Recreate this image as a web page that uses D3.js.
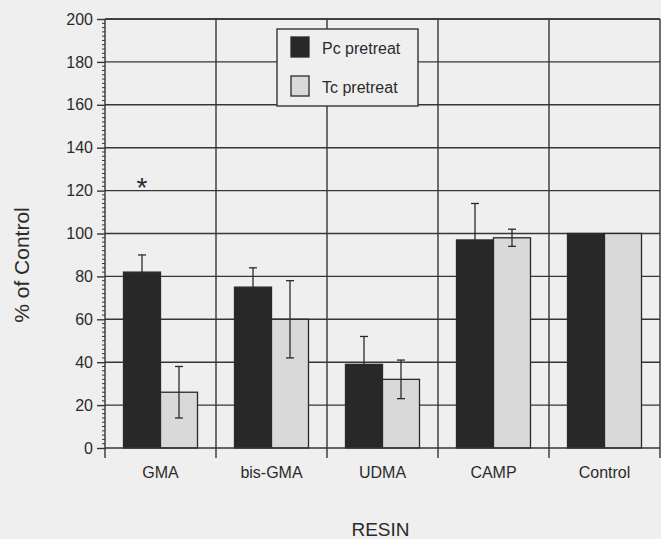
<!DOCTYPE html>
<html>
<head>
<meta charset="utf-8">
<script src="https://cdn.jsdelivr.net/npm/d3@7"></script>
<style>
  body { margin: 0; background: #efefef; }
  svg { display: block; }
  text { font-family: "Liberation Sans", Arial, sans-serif; fill: #2b2b2b; }
</style>
</head>
<body>
<svg id="chart"></svg>
<script>

/*
		 DATA
*/
var resins = ["GMA", "bis-GMA", "UDMA", "CAMP", "Control"];
var seriesNames = ["Pc pretreat", "Tc pretreat"];
var pcValues = [82, 75, 39, 97, 100];
var pcErrors = [8, 9, 13, 17, 0];
var tcValues = [26, 60, 32, 98, 100];
var tcErrors = [12, 18, 9, 4, 0];
var yTicks = [0, 20, 40, 60, 80, 100, 120, 140, 160, 180, 200];
var starValue = 124; // asterisk above GMA Pc bar


/*
		 GLOBAL LAYOUT CONSTANTS
*/
var width = 661;
var height = 539;
var margin = {top: 19, right: 1, bottom: 91, left: 105};

var w = width - margin.left - margin.right;
var h = height - margin.top - margin.bottom;

var gridColor = "#363636";
var colors = ["#282828", "#d9d9d9"];

var svg = d3.select("#chart")
    .attr("width", width)
    .attr("height", height);

svg.append("rect")
    .attr("width", width)
    .attr("height", height)
    .attr("fill", "#efefef");

var g = svg.append("g")
    .attr("transform", "translate(" + margin.left + "," + margin.top + ")");


/*
		 SCALES
*/
var x = d3.scaleBand()
    .domain(resins)
    .range([0, w])
    .padding(0);

var xSeries = d3.scaleBand()
    .domain(seriesNames)
    .range([0, x.bandwidth()])
    .paddingInner(0)
    .paddingOuter(0.5);

var y = d3.scaleLinear()
    .domain([0, 200])
    .range([h, 0]);

// build rows for the bars
var rows = [];
resins.forEach(function(r, i) {
  rows.push({resin: r, series: seriesNames[0], value: pcValues[i], err: pcErrors[i], c: 0});
  rows.push({resin: r, series: seriesNames[1], value: tcValues[i], err: tcErrors[i], c: 1});
});


/*
		 GRID
*/
g.selectAll(".hgrid")
    .data(yTicks.filter(function(d) { return d > 0; }))
    .enter().append("line")
    .attr("class", "hgrid")
    .attr("x1", 0)
    .attr("x2", w)
    .attr("y1", function(d) { return y(d); })
    .attr("y2", function(d) { return y(d); })
    .attr("stroke", gridColor)
    .attr("stroke-width", 1.4);

var bounds = resins.map(function(r) { return x(r); }).concat([w]);

g.selectAll(".vgrid")
    .data(bounds.slice(1))
    .enter().append("line")
    .attr("class", "vgrid")
    .attr("x1", function(d) { return d; })
    .attr("x2", function(d) { return d; })
    .attr("y1", 0)
    .attr("y2", h)
    .attr("stroke", gridColor)
    .attr("stroke-width", 1.4);


/*
		 BARS + ERROR BARS
*/
g.selectAll(".bar")
    .data(rows)
    .enter().append("rect")
    .attr("class", "bar")
    .attr("x", function(d) { return x(d.resin) + xSeries(d.series); })
    .attr("width", xSeries.bandwidth())
    .attr("y", function(d) { return y(d.value); })
    .attr("height", function(d) { return h - y(d.value); })
    .attr("fill", function(d) { return colors[d.c]; })
    .attr("stroke", "#2a2a2a")
    .attr("stroke-width", 1.3);

var errRows = rows.filter(function(d) { return d.err > 0; });
var cx = function(d) { return x(d.resin) + xSeries(d.series) + xSeries.bandwidth() / 2; };

var err = g.selectAll(".err")
    .data(errRows)
    .enter().append("g")
    .attr("class", "err")
    .attr("stroke", "#2a2a2a")
    .attr("stroke-width", 1.3);

err.append("line")
    .attr("x1", cx).attr("x2", cx)
    .attr("y1", function(d) { return y(d.value + d.err); })
    .attr("y2", function(d) { return y(d.value - d.err); });

err.append("line")
    .attr("x1", function(d) { return cx(d) - 4; })
    .attr("x2", function(d) { return cx(d) + 4; })
    .attr("y1", function(d) { return y(d.value + d.err); })
    .attr("y2", function(d) { return y(d.value + d.err); });

err.append("line")
    .attr("x1", function(d) { return cx(d) - 4; })
    .attr("x2", function(d) { return cx(d) + 4; })
    .attr("y1", function(d) { return y(d.value - d.err); })
    .attr("y2", function(d) { return y(d.value - d.err); });

// asterisk
g.append("text")
    .attr("x", x("GMA") + xSeries(seriesNames[0]) + xSeries.bandwidth() / 2)
    .attr("y", y(starValue) + 15)
    .attr("text-anchor", "middle")
    .style("font-size", "28px")
    .text("*");


/*
		 AXES
*/
var yAxis = g.append("g")
    .attr("class", "axis axis--y")
    .call(d3.axisLeft(y).tickValues(yTicks).tickSize(8).tickPadding(4));

// minor ticks every 2 units
yAxis.selectAll(".minor")
    .data(d3.range(0, 201, 2).filter(function(d) { return d % 20 !== 0; }))
    .enter().append("line")
    .attr("class", "minor")
    .attr("x1", -3).attr("x2", 0)
    .attr("y1", function(d) { return y(d); })
    .attr("y2", function(d) { return y(d); })
    .attr("stroke", gridColor);

yAxis.select(".domain").attr("stroke", gridColor).attr("stroke-width", 1.4)
    .attr("d", "M0," + h + "V0");
yAxis.selectAll(".tick line").attr("stroke", gridColor).attr("stroke-width", 1.4);
yAxis.selectAll(".tick text")
    .style("font-size", "16px")
    .style("font-family", "'Liberation Sans', Arial, sans-serif")
    .attr("fill", "#2b2b2b");

// top border
g.append("line")
    .attr("x1", 0).attr("x2", w)
    .attr("y1", 0).attr("y2", 0)
    .attr("stroke", gridColor)
    .attr("stroke-width", 1.4);

// x axis: baseline, ticks at category boundaries, labels centered
g.append("line")
    .attr("x1", 0).attr("x2", w)
    .attr("y1", h).attr("y2", h)
    .attr("stroke", gridColor)
    .attr("stroke-width", 1.4);

g.selectAll(".xtick")
    .data(bounds)
    .enter().append("line")
    .attr("class", "xtick")
    .attr("x1", function(d) { return d; })
    .attr("x2", function(d) { return d; })
    .attr("y1", h)
    .attr("y2", h + 10)
    .attr("stroke", gridColor)
    .attr("stroke-width", 1.4);

g.selectAll(".xlabel")
    .data(resins)
    .enter().append("text")
    .attr("class", "xlabel")
    .attr("x", function(d) { return x(d) + x.bandwidth() / 2; })
    .attr("y", h + 30)
    .attr("text-anchor", "middle")
    .style("font-size", "16px")
    .text(function(d) { return d; });

// axis titles
svg.append("text")
    .attr("x", margin.left + w / 2 - 2)
    .attr("y", 536)
    .attr("text-anchor", "middle")
    .style("font-size", "19px")
    .text("RESIN");

svg.append("text")
    .attr("transform", "translate(29,265) rotate(-90)")
    .attr("text-anchor", "middle")
    .style("font-size", "21px")
    .text("% of Control");


/*
		 LEGEND
*/
var legend = svg.append("g")
    .attr("transform", "translate(277,29)");

legend.append("rect")
    .attr("width", 141)
    .attr("height", 77)
    .attr("fill", "#efefef")
    .attr("stroke", gridColor)
    .attr("stroke-width", 1.4);

var item = legend.selectAll(".item")
    .data(seriesNames)
    .enter().append("g")
    .attr("class", "item")
    .attr("transform", function(d, i) { return "translate(14," + (8 + i * 39) + ")"; });

item.append("rect")
    .attr("width", 18)
    .attr("height", 20)
    .attr("fill", function(d, i) { return colors[i]; })
    .attr("stroke", "#2a2a2a")
    .attr("stroke-width", 1.3);

item.append("text")
    .attr("x", 31)
    .attr("y", 17)
    .style("font-size", "16px")
    .text(function(d) { return d; });

</script>
</body>
</html>
